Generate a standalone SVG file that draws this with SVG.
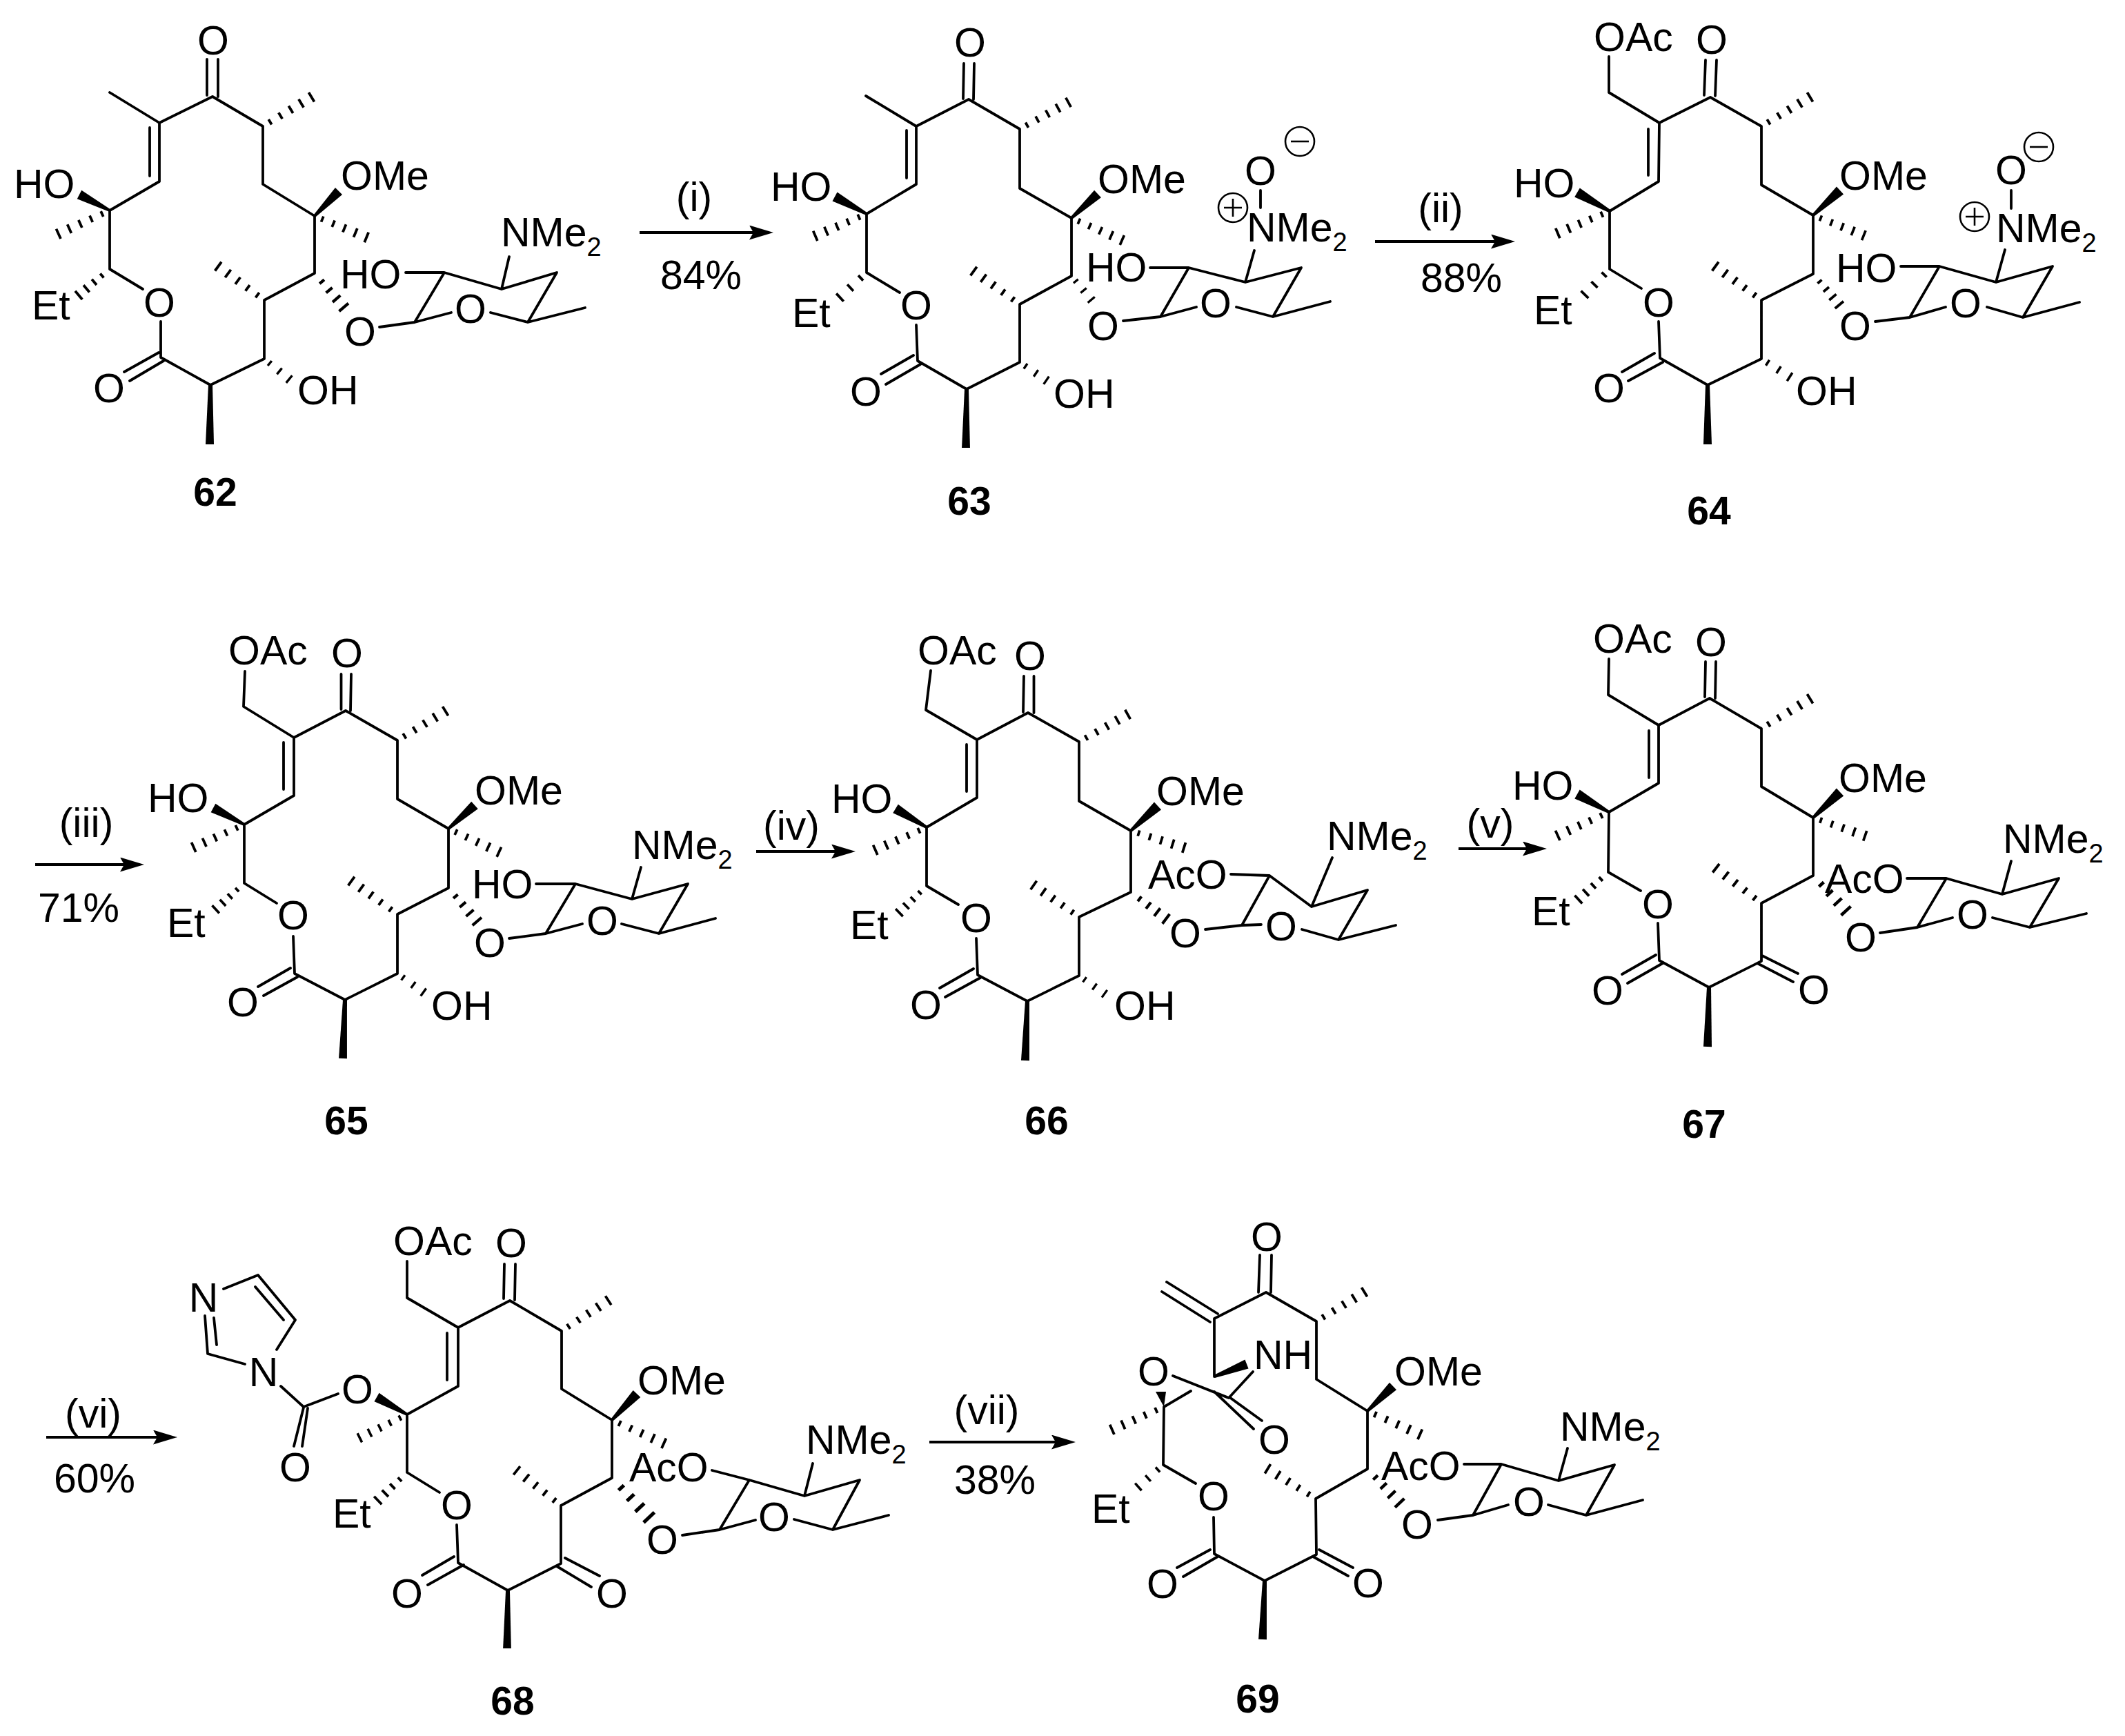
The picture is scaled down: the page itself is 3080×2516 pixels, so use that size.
<svg xmlns="http://www.w3.org/2000/svg" width="3080" height="2516" viewBox="0 0 3080 2516">
<style>
text{font-family:"Liberation Sans",Arial,sans-serif;font-size:59px;fill:#000}
.m{text-anchor:middle}
.n{font-weight:bold;text-anchor:middle;font-size:57px}
.s{font-size:38px}
.b{fill:none;stroke:#000;stroke-width:3.8;stroke-linecap:round;stroke-linejoin:round}
.c{fill:none;stroke:#000;stroke-width:2.6}
.a{fill:none;stroke:#000;stroke-width:4}
</style>
<defs>
<marker id="arrow" markerUnits="userSpaceOnUse" markerWidth="35" markerHeight="21" viewBox="0 0 35 21" refX="15" refY="10.5" orient="auto"><path d="M0,0L35,10.5L0,21L6,10.5z" fill="#000"/></marker>
<polygon id="w" points="0,-4 100,-14 100,14 0,4" fill="#000"/>
<polygon id="wl" points="0,-3.5 100,-7 100,7 0,3.5" fill="#000"/>
<path id="h" d="M14,-5V5M34,-6V6M54,-7V7M74,-8V8M94,-9V9" fill="none" stroke="#000" stroke-width="4.4"/>
<path id="hs" d="M22,-6V6M44,-8V8M66,-10V10M88,-12V12" fill="none" stroke="#000" stroke-width="5.8"/>
<path id="h3" d="M18,-8V8M50,-10V10M82,-12V12" fill="none" stroke="#000" stroke-width="6"/>
</defs>
<rect width="3080" height="2516" fill="#fff"/>

<g id="connectors">
<path class="a" marker-end="url(#arrow)" d="M927,337H1101"/>
<path class="a" marker-end="url(#arrow)" d="M1993,350H2176"/>
<path class="a" marker-end="url(#arrow)" d="M51,1253H189"/>
<path class="a" marker-end="url(#arrow)" d="M1096,1234H1220"/>
<path class="a" marker-end="url(#arrow)" d="M2114,1230H2222"/>
<path class="a" marker-end="url(#arrow)" d="M67,2083H237"/>
<path class="a" marker-end="url(#arrow)" d="M1347,2090H1539"/>
<text class="m" x="1006" y="306">(i)</text><text class="m" x="1016" y="419">84%</text>
<text class="m" x="2088" y="322">(ii)</text><text class="m" x="2118" y="423">88%</text>
<text class="m" x="125" y="1213">(iii)</text><text class="m" x="114" y="1336">71%</text>
<text class="m" x="1147" y="1217">(iv)</text>
<text class="m" x="2160" y="1214">(v)</text>
<text class="m" x="135" y="2069">(vi)</text><text class="m" x="137" y="2163">60%</text>
<text class="m" x="1430" y="2064">(vii)</text><text class="m" x="1442" y="2165">38%</text>
</g>

<g id="m62">
<path class="b" d="M300,86L300,138M316,86L316,140M159,134L231,178L308,140L381,183L381,267L456,313L456,396L383,435L383,520L305,558L233,518L233,466M231,178L231,263L159,305L159,390L207,419M217,185L217,255M230,511L180,539M237,523L188,552M588,395L644,395L727,419L807,395L765,467L711,453M654,453L601,467L644,395M550,474L601,467M738,372L727,419M765,467L848,446"/>
<use href="#w" transform="matrix(-.44 -.23 .23 -.44 159 305)"/>
<use href="#w" transform="matrix(.35 -.36 .36 .35 456 313)"/>
<use href="#wl" transform="matrix(-.01 .86 -.86 -.01 305 558)"/>
<use href="#h" transform="matrix(-.79 .36 -.36 -.79 159 305)"/>
<use href="#hs" transform="matrix(-.51 .43 -.43 -.51 159 390)"/>
<use href="#h3" transform="matrix(.44 .36 -.36 .44 383 520)"/>
<use href="#h" transform="matrix(-.71 -.52 .52 -.71 383 435)"/>
<use href="#hs" transform="matrix(.48 .56 -.56 .48 456 396)"/>
<use href="#h" transform="matrix(.8 .33 -.33 .8 456 313)"/>
<use href="#h" transform="matrix(.75 -.45 .45 .75 381 183)"/>
<text class="m" x="309" y="79">O</text>
<text x="20" y="287">HO</text>
<text x="46" y="463">Et</text>
<text class="m" x="231" y="459">O</text>
<text class="m" x="158" y="583">O</text>
<text x="431" y="586">OH</text>
<text x="494" y="275">OMe</text>
<text x="493" y="418">HO</text>
<text class="m" x="682" y="468">O</text>
<text class="m" x="522" y="501">O</text>
<text x="726" y="357">NMe<tspan class="s" dy="14">2</tspan></text>
<text class="n" x="312" y="733">62</text>
</g>

<g id="m63">
<path class="b" d="M1397,92L1396,143M1412,92L1411,144M1255,139L1328,183L1404,144L1478,187L1478,273L1553,316L1553,400L1478,441L1478,525L1401,564L1330,523L1328,471M1328,183L1328,267L1256,310L1256,395L1304,424M1314,189L1314,258M1324,515L1277,542M1334,528L1284,557M1667,388L1723,388L1805,409L1886,388L1845,459L1792,445M1734,445L1682,459L1723,388M1628,465L1682,459M1818,363L1805,409M1845,459L1928,437M1827,276L1827,301"/>
<use href="#w" transform="matrix(-.46 -.25 .25 -.46 1256 310)"/>
<use href="#w" transform="matrix(.38 -.35 .35 .38 1553 316)"/>
<use href="#wl" transform="matrix(-.01 .85 -.85 -.01 1401 564)"/>
<use href="#h" transform="matrix(-.79 .34 -.34 -.79 1256 310)"/>
<use href="#h3" transform="matrix(-.47 .44 -.44 -.47 1256 395)"/>
<use href="#h3" transform="matrix(.47 .32 -.32 .47 1478 525)"/>
<use href="#h" transform="matrix(-.71 -.51 .51 -.71 1478 441)"/>
<use href="#h3" transform="matrix(.35 .42 -.42 .35 1553 400)"/>
<use href="#h" transform="matrix(.78 .34 -.34 .78 1553 316)"/>
<use href="#h" transform="matrix(.75 -.41 .41 .75 1478 187)"/>
<text class="m" x="1406" y="82">O</text>
<text x="1117" y="291">HO</text>
<text x="1148" y="474">Et</text>
<text class="m" x="1328" y="463">O</text>
<text class="m" x="1255" y="588">O</text>
<text x="1527" y="591">OH</text>
<text x="1591" y="280">OMe</text>
<text x="1574" y="408">HO</text>
<text class="m" x="1762" y="460">O</text>
<text class="m" x="1599" y="493">O</text>
<text class="m" x="1827" y="268">O</text>
<text x="1807" y="350">NMe<tspan class="s" dy="14">2</tspan></text>
<circle class="c" cx="1787" cy="301" r="21"/><path class="c" d="M1774,301H1800M1787,288V314"/>
<circle class="c" cx="1884" cy="205" r="21"/><path class="c" d="M1871,205H1897"/>
<text class="n" x="1405" y="746">63</text>
</g>

<g id="m64">
<path class="b" d="M2472,87L2470,138M2488,87L2486,139M2332,82L2332,134L2405,178L2479,141L2553,183L2553,268L2628,312L2628,397L2553,435L2553,520L2475,558L2406,519L2404,466M2405,178L2404,263L2333,306L2333,390L2379,418M2389,187L2389,254M2398,512L2351,539M2410,525L2360,552M2755,386L2811,386L2893,409L2975,386L2932,460L2880,445M2820,445L2768,460L2811,386M2718,466L2768,460M2906,362L2893,409M2932,460L3014,438M2915,276L2915,302"/>
<use href="#w" transform="matrix(-.47 -.27 .27 -.47 2333 306)"/>
<use href="#w" transform="matrix(.39 -.36 .36 .39 2628 312)"/>
<use href="#wl" transform="matrix(0 .86 -.86 0 2475 558)"/>
<use href="#h" transform="matrix(-.8 .34 -.34 -.8 2333 306)"/>
<use href="#h3" transform="matrix(-.44 .45 -.45 -.44 2333 390)"/>
<use href="#h3" transform="matrix(.5 .32 -.32 .5 2553 520)"/>
<use href="#h" transform="matrix(-.71 -.52 .52 -.71 2553 435)"/>
<use href="#hs" transform="matrix(.43 .51 -.51 .43 2628 397)"/>
<use href="#h" transform="matrix(.78 .31 -.31 .78 2628 312)"/>
<use href="#h" transform="matrix(.75 -.45 .45 .75 2553 183)"/>
<text x="2310" y="74">OAc</text>
<text class="m" x="2481" y="78">O</text>
<text x="2194" y="286">HO</text>
<text x="2223" y="470">Et</text>
<text class="m" x="2404" y="459">O</text>
<text class="m" x="2332" y="583">O</text>
<text x="2603" y="587">OH</text>
<text x="2666" y="275">OMe</text>
<text x="2661" y="409">HO</text>
<text class="m" x="2849" y="460">O</text>
<text class="m" x="2689" y="493">O</text>
<text class="m" x="2915" y="267">O</text>
<text x="2893" y="351">NMe<tspan class="s" dy="14">2</tspan></text>
<circle class="c" cx="2862" cy="314" r="21"/><path class="c" d="M2849,314H2875M2862,301V327"/>
<circle class="c" cx="2955" cy="213" r="21"/><path class="c" d="M2942,213H2968"/>
<text class="n" x="2477" y="760">64</text>
</g>

<g id="m65">
<path class="b" d="M494.5,977L494.5,1028M509,977L508,1030M355,973L353,1024L426,1069L501,1030L576,1073L576,1158L650,1201L650,1287L576,1325L576,1411L500,1449L427,1411L425,1357M426,1069L426,1153L354,1195L354,1280L401,1309M411,1076L411,1144M421,1403L374,1430M431,1416L382,1443M777,1281L834,1281L916,1303L997,1281L955,1353L901,1339M844,1339L791,1353L834,1281M738,1360L791,1353M929,1257L916,1303M955,1353L1037,1331"/>
<use href="#w" transform="matrix(-.45 -.24 .24 -.45 354 1195)"/>
<use href="#w" transform="matrix(.38 -.34 .34 .38 650 1201)"/>
<use href="#wl" transform="matrix(-.03 .85 -.85 -.03 500 1449)"/>
<use href="#h" transform="matrix(-.78 .35 -.35 -.78 354 1195)"/>
<use href="#hs" transform="matrix(-.47 .43 -.43 -.47 354 1280)"/>
<use href="#h3" transform="matrix(.46 .33 -.33 .46 576 1411)"/>
<use href="#h" transform="matrix(-.71 -.51 .51 -.71 576 1325)"/>
<use href="#hs" transform="matrix(.47 .55 -.55 .47 650 1287)"/>
<use href="#h" transform="matrix(.78 .36 -.36 .78 650 1201)"/>
<use href="#h" transform="matrix(.74 -.45 .45 .74 576 1073)"/>
<text x="331" y="963">OAc</text>
<text class="m" x="503" y="967">O</text>
<text x="214" y="1177">HO</text>
<text x="242" y="1358">Et</text>
<text class="m" x="425" y="1347">O</text>
<text class="m" x="352" y="1473">O</text>
<text x="625" y="1478">OH</text>
<text x="688" y="1166">OMe</text>
<text x="684" y="1302">HO</text>
<text class="m" x="873" y="1355">O</text>
<text class="m" x="710" y="1387">O</text>
<text x="916" y="1245">NMe<tspan class="s" dy="14">2</tspan></text>
<text class="n" x="502" y="1644">65</text>
</g>

<g id="m66">
<path class="b" d="M1484,980L1483,1032M1498.5,980L1498.5,1033M1349,972L1342,1029L1416,1072L1490,1033L1564,1075L1564,1161L1639,1204L1639,1293L1564,1329L1564,1414L1489,1451L1417,1413L1415,1360M1416,1072L1416,1156L1343,1199L1343,1284L1389,1311M1401,1079L1401,1147M1411,1404L1362,1432M1421,1417L1370,1445M1784,1267L1840,1269L1901,1314L1982,1290L1940,1362L1887,1347M1828,1340L1800,1341L1840,1269M1747,1347L1800,1341M1931,1243L1901,1314M1940,1362L2023,1341"/>
<use href="#w" transform="matrix(-.45 -.27 .27 -.45 1343 1199)"/>
<use href="#w" transform="matrix(.39 -.36 .36 .39 1639 1204)"/>
<use href="#wl" transform="matrix(-.03 .86 -.86 -.03 1489 1451)"/>
<use href="#h" transform="matrix(-.79 .35 -.35 -.79 1343 1199)"/>
<use href="#hs" transform="matrix(-.45 .44 -.44 -.45 1343 1284)"/>
<use href="#h3" transform="matrix(.45 .32 -.32 .45 1564 1414)"/>
<use href="#h" transform="matrix(-.7 -.49 .49 -.7 1564 1329)"/>
<use href="#hs" transform="matrix(.58 .44 -.44 .58 1639 1293)"/>
<use href="#h" transform="matrix(.82 .26 -.26 .82 1639 1204)"/>
<use href="#h" transform="matrix(.75 -.42 .42 .75 1564 1075)"/>
<text x="1330" y="963">OAc</text>
<text class="m" x="1493" y="971">O</text>
<text x="1205" y="1178">HO</text>
<text x="1232" y="1361">Et</text>
<text class="m" x="1415" y="1351">O</text>
<text class="m" x="1342" y="1477">O</text>
<text x="1615" y="1478">OH</text>
<text x="1676" y="1167">OMe</text>
<text x="1664" y="1288">AcO</text>
<text class="m" x="1857" y="1363">O</text>
<text class="m" x="1718" y="1373">O</text>
<text x="1923" y="1232">NMe<tspan class="s" dy="14">2</tspan></text>
<text class="n" x="1517" y="1644">66</text>
</g>

<g id="m67">
<path class="b" d="M2472,959L2471,1010M2487,959L2486,1012M2332,955L2331,1007L2404,1051L2478,1012L2553,1056L2553,1140L2628,1185L2628,1269L2553,1309L2553,1393L2477,1431L2405,1392L2403,1338M2404,1051L2404,1135L2332,1177L2331,1264L2378,1291M2390,1059L2390,1127M2400,1384L2351,1412M2410,1396L2359,1425M2554,1385L2606,1411M2547,1396L2599,1423M2764,1273L2821,1273L2902,1296L2984,1273L2942,1344L2888,1330M2830,1330L2779,1344L2821,1273M2725,1352L2779,1344M2915,1248L2902,1296M2942,1344L3024,1324"/>
<use href="#w" transform="matrix(-.46 -.26 .26 -.46 2332 1177)"/>
<use href="#w" transform="matrix(.39 -.37 .37 .39 2628 1185)"/>
<use href="#wl" transform="matrix(-.02 .86 -.86 -.02 2477 1431)"/>
<use href="#h" transform="matrix(-.79 .36 -.36 -.79 2332 1177)"/>
<use href="#hs" transform="matrix(-.49 .45 -.45 -.49 2331 1264)"/>
<use href="#h" transform="matrix(-.7 -.54 .54 -.7 2553 1309)"/>
<use href="#hs" transform="matrix(.54 .58 -.58 .54 2628 1269)"/>
<use href="#h" transform="matrix(.8 .28 -.28 .8 2628 1185)"/>
<use href="#h" transform="matrix(.75 -.46 .46 .75 2553 1056)"/>
<text x="2309" y="946">OAc</text>
<text class="m" x="2480" y="951">O</text>
<text x="2192" y="1159">HO</text>
<text x="2220" y="1341">Et</text>
<text class="m" x="2403" y="1331">O</text>
<text class="m" x="2330" y="1456">O</text>
<text class="m" x="2629" y="1455">O</text>
<text x="2665" y="1148">OMe</text>
<text x="2645" y="1294">AcO</text>
<text class="m" x="2859" y="1346">O</text>
<text class="m" x="2697" y="1379">O</text>
<text x="2903" y="1236">NMe<tspan class="s" dy="14">2</tspan></text>
<text class="n" x="2470" y="1649">67</text>
</g>

<g id="m68">
<path class="b" d="M731,1832L730,1882M747,1832L746,1884M590,1828L590,1881L664,1924L739,1885L814,1929L814,2013L887,2058L887,2142L813,2182L813,2266L736,2305L664,2265L662,2210M664,1924L664,2009L590,2050L590,2134L637,2163M648,1932L648,2000M658,2256L612,2283M672,2268L620,2297M819,2258L869,2284M807,2270L857,2300M355,1977L301,1962L297,1907M314,1949L310,1910M324,1868L374,1848L428,1913L401,1956M370,1865L411,1913M407,2009L440,2039L490,2020M440,2040L426,2096M446,2041L438,2096M1032,2131L1086,2145L1166,2168L1246,2145L1207,2217L1151,2202M1095,2203L1043,2217L1086,2145M989,2225L1043,2217M1178,2121L1166,2168M1207,2217L1288,2196"/>
<use href="#w" transform="matrix(-.44 -.25 .25 -.44 590 2050)"/>
<use href="#w" transform="matrix(.36 -.38 .38 .36 887 2058)"/>
<use href="#wl" transform="matrix(-.01 .84 -.84 -.01 736 2305)"/>
<use href="#h" transform="matrix(-.73 .36 -.36 -.73 590 2050)"/>
<use href="#hs" transform="matrix(-.48 .46 -.46 -.48 590 2134)"/>
<use href="#h" transform="matrix(-.68 -.54 .54 -.68 813 2182)"/>
<use href="#hs" transform="matrix(.61 .65 -.65 .61 887 2142)"/>
<use href="#h" transform="matrix(.8 .36 -.36 .8 887 2058)"/>
<use href="#h" transform="matrix(.72 -.47 .47 .72 814 1929)"/>
<text x="570" y="1819">OAc</text>
<text class="m" x="741" y="1822">O</text>
<text class="m" x="518" y="2034">O</text>
<text class="m" x="382" y="2009">N</text>
<text class="m" x="295" y="1901">N</text>
<text class="m" x="428" y="2147">O</text>
<text x="482" y="2214">Et</text>
<text class="m" x="662" y="2202">O</text>
<text class="m" x="590" y="2330">O</text>
<text class="m" x="887" y="2330">O</text>
<text x="924" y="2021">OMe</text>
<text x="912" y="2147">AcO</text>
<text class="m" x="1122" y="2219">O</text>
<text class="m" x="960" y="2252">O</text>
<text x="1168" y="2107">NMe<tspan class="s" dy="14">2</tspan></text>
<text class="n" x="743" y="2485">68</text>
</g>

<g id="m69">
<path class="b" d="M1826,1819L1824,1873M1843,1819L1842,1873M1691,1858L1765,1904M1684,1872L1754,1916M1760,1995L1760,1911L1835,1873L1908,1915L1908,1999L1982,2045L1982,2129L1907,2172L1908,2253L1833,2291L1760,2252L1759,2199M1726,2016L1687,2039L1686,2123L1733,2150M1754,2246L1706,2272M1765,2256L1715,2285M1912,2246L1961,2272M1903,2256L1954,2284M1700,1994L1781,2026L1816,1988M1760,2017L1817,2071M1782,2025L1829,2059M2122,2122L2176,2122L2259,2146L2340,2123L2299,2196L2244,2181M2186,2181L2135,2196L2176,2122M2084,2203L2135,2196M2272,2099L2259,2146M2299,2196L2381,2174"/>
<use href="#w" transform="matrix(.47 -.18 .18 .47 1760 1995)"/>
<polygon points="1687,2039 1675,2017 1690,2017" fill="#000"/>
<use href="#w" transform="matrix(.37 -.36 .36 .37 1982 2045)"/>
<use href="#wl" transform="matrix(-.03 .85 -.85 -.03 1833 2291)"/>
<use href="#h" transform="matrix(-.8 .35 -.35 -.8 1687 2039)"/>
<use href="#h3" transform="matrix(-.44 .39 -.39 -.44 1686 2123)"/>
<use href="#h" transform="matrix(-.74 -.46 .46 -.74 1907 2172)"/>
<use href="#hs" transform="matrix(.53 .56 -.56 .53 1982 2129)"/>
<use href="#h" transform="matrix(.81 .36 -.36 .81 1982 2045)"/>
<use href="#h" transform="matrix(.74 -.45 .45 .74 1908 1915)"/>
<text class="m" x="1836" y="1813">O</text>
<text x="1817" y="1984">NH</text>
<text class="m" x="1672" y="2008">O</text>
<text class="m" x="1847" y="2107">O</text>
<text x="1582" y="2207">Et</text>
<text class="m" x="1759" y="2189">O</text>
<text class="m" x="1685" y="2316">O</text>
<text class="m" x="1983" y="2315">O</text>
<text x="2021" y="2008">OMe</text>
<text x="2002" y="2145">AcO</text>
<text class="m" x="2216" y="2197">O</text>
<text class="m" x="2054" y="2230">O</text>
<text x="2261" y="2088">NMe<tspan class="s" dy="14">2</tspan></text>
<text class="n" x="1823" y="2482">69</text>
</g>
</svg>
